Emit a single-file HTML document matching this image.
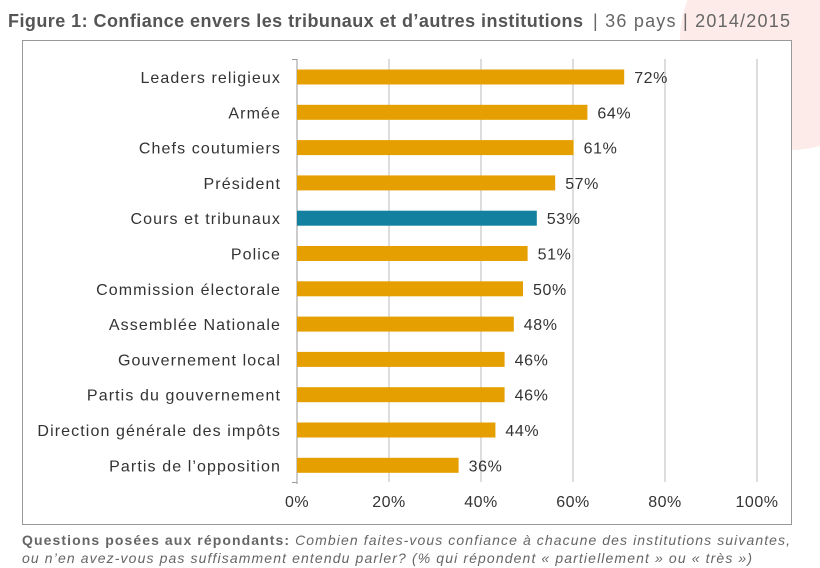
<!DOCTYPE html>
<html><head><meta charset="utf-8"><style>
body{margin:0;width:820px;height:568px;background:#fff;position:relative;overflow:hidden;font-family:"Liberation Sans",sans-serif;}
</style></head><body>
<svg width="820" height="568" style="position:absolute;left:0;top:0">
<circle cx="790" cy="40" r="110" fill="#fbe3de" opacity="0.7"/>
<text x="8" y="27" font-size="18" fill="#555" font-weight="bold" textLength="575" lengthAdjust="spacing">Figure 1: Confiance envers les tribunaux et d’autres institutions</text>
<text x="593" y="27" font-size="18" fill="#666" textLength="197" lengthAdjust="spacing">| 36 pays | 2014/2015</text>
<rect x="22.5" y="40.5" width="769" height="484" fill="#fff" stroke="#999"/>
<g stroke="#bbb" stroke-width="1">
<line x1="389" y1="59" x2="389" y2="482"/><line x1="481" y1="59" x2="481" y2="482"/>
<line x1="573" y1="59" x2="573" y2="482"/><line x1="665" y1="59" x2="665" y2="482"/>
<line x1="757" y1="59" x2="757" y2="482"/>
</g>
<g stroke="#999"><line x1="297" y1="59" x2="297" y2="484"/>
<line x1="292" y1="59.5" x2="297" y2="59.5"/><line x1="292" y1="482.5" x2="297" y2="482.5"/></g>
<g font-size="16" fill="#333" text-anchor="end" letter-spacing="1.1" id="labels"></g>
<g id="bars"></g>
<g font-size="16" fill="#333" text-anchor="middle" letter-spacing="0.5">
<text x="297" y="507">0%</text><text x="389" y="507">20%</text><text x="481" y="507">40%</text><text x="573" y="507">60%</text><text x="665" y="507">80%</text><text x="757" y="507">100%</text>
</g>
<text x="22" y="545" font-size="14" fill="#666" textLength="768" lengthAdjust="spacing"><tspan font-weight="bold">Questions posées aux répondants:</tspan><tspan font-style="italic"> Combien faites-vous confiance à chacune des institutions suivantes,</tspan></text>
<text x="22" y="563" font-size="14" fill="#666" font-style="italic" textLength="730" lengthAdjust="spacing">ou n’en avez-vous pas suffisamment entendu parler? (% qui répondent « partiellement » ou « très »)</text>
</svg>
<script>
var d=[["Leaders religieux",72],["Armée",64],["Chefs coutumiers",61],["Président",57],["Cours et tribunaux",53],["Police",51],["Commission électorale",50],["Assemblée Nationale",48],["Gouvernement local",46],["Partis du gouvernement",46],["Direction générale des impôts",44],["Partis de l’opposition",36]];
var ns="http://www.w3.org/2000/svg",L=document.getElementById("labels"),B=document.getElementById("bars");
d.forEach(function(r,i){var cy=77+i*35.3;
var t=document.createElementNS(ns,"text");t.setAttribute("x",281);t.setAttribute("y",cy+6);t.textContent=r[0];L.appendChild(t);
var b=document.createElementNS(ns,"rect");b.setAttribute("x",297);b.setAttribute("y",cy-7.5);b.setAttribute("width",r[1]*4.6-4);b.setAttribute("height",15);b.setAttribute("fill",i==4?"#12809e":"#e69f00");B.appendChild(b);
var v=document.createElementNS(ns,"text");v.setAttribute("x",297+r[1]*4.6+6);v.setAttribute("y",cy+6);v.setAttribute("font-size","16");v.setAttribute("letter-spacing","0.6");v.setAttribute("fill","#333");v.textContent=r[1]+"%";B.appendChild(v);});
</script>
</body></html>
